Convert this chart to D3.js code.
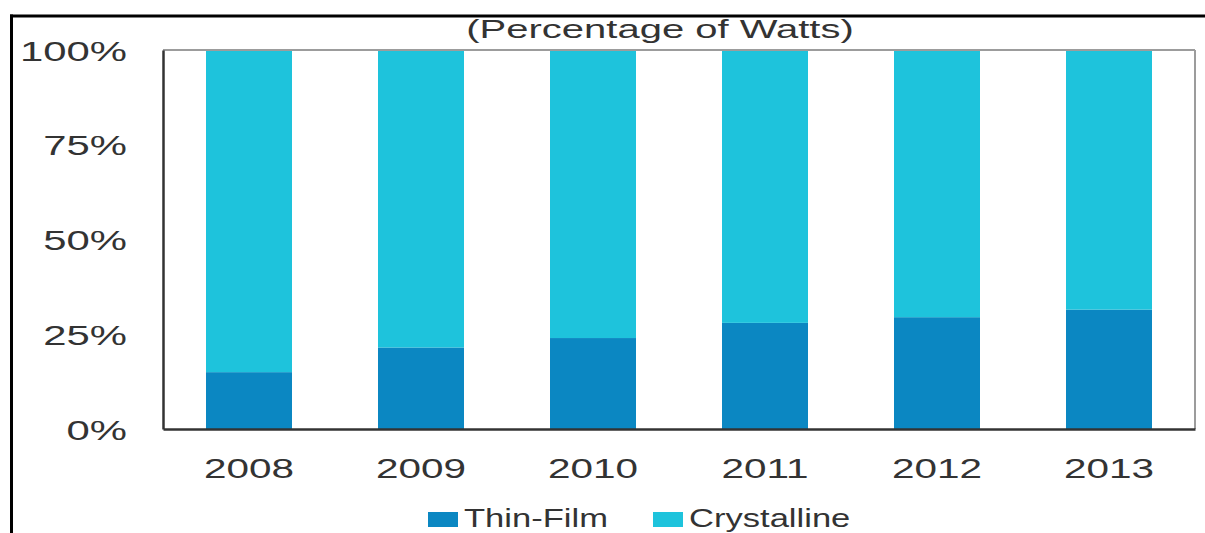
<!DOCTYPE html>
<html>
<head>
<meta charset="utf-8">
<script src="https://cdn.jsdelivr.net/npm/d3@7"></script>
<style>
  html, body { margin: 0; padding: 0; background: #fff; }
  svg { display: block; }
  text { font-family: "Liberation Sans", Arial, sans-serif; fill: #333; }
</style>
</head>
<body>
<svg id="chart" width="1205" height="533"></svg>
<script>
// Module shipments by technology, share of total watts
const years = ["2008", "2009", "2010", "2011", "2012", "2013"];
const thinFilm = [15, 21.5, 24, 28, 29.5, 31.5];
const crystalline = [85, 78.5, 76, 72, 70.5, 68.5];
const seriesNames = ["Thin-Film", "Crystalline"];
const seriesColors = ["#0b87c2", "#1ec3dc"];
const yTicks = [0, 25, 50, 75, 100];
const title = "(Percentage of Watts)";

const W = 1205, H = 533;
const margin = { top: 50, right: 10, bottom: 104, left: 163 };
const plotW = W - margin.left - margin.right;
const plotH = H - margin.top - margin.bottom;

const svg = d3.select("#chart");

// Outer frame (top and left edges)
svg.append("line").attr("x1", 10).attr("x2", W).attr("y1", 16).attr("y2", 16)
  .attr("stroke", "#000").attr("stroke-width", 3);
svg.append("line").attr("x1", 11.5).attr("x2", 11.5).attr("y1", 14.5).attr("y2", H)
  .attr("stroke", "#000").attr("stroke-width", 3);

const g = svg.append("g").attr("transform", `translate(${margin.left},${margin.top})`);

const x = d3.scaleBand().domain(years).range([0, plotW]).paddingInner(0.5).paddingOuter(0.25);
const y = d3.scaleLinear().domain([0, 100]).range([plotH, 0]);

const rows = years.map((yr, i) => ({ year: yr, "Thin-Film": thinFilm[i], "Crystalline": crystalline[i] }));
const stacked = d3.stack().keys(seriesNames)(rows);
const color = d3.scaleOrdinal().domain(seriesNames).range(seriesColors);

// Stacked bars
g.selectAll("g.layer").data(stacked).join("g")
  .attr("class", "layer")
  .attr("fill", d => color(d.key))
  .selectAll("rect").data(d => d).join("rect")
  .attr("x", d => x(d.data.year))
  .attr("width", x.bandwidth())
  .attr("y", d => y(d[1]))
  .attr("height", d => y(d[0]) - y(d[1]));

// Plot frame: light top/right, dark left/bottom
g.append("line").attr("x1", 0).attr("x2", plotW).attr("y1", 0).attr("y2", 0)
  .attr("stroke", "#9c9c9c").attr("stroke-width", 2);
g.append("line").attr("x1", plotW).attr("x2", plotW).attr("y1", 0).attr("y2", plotH)
  .attr("stroke", "#9c9c9c").attr("stroke-width", 2);

const stretchText = (sel, sx, dx, dy) =>
  sel.attr("x", null).attr("y", null).attr("dy", null)
     .attr("transform", `translate(${dx},${dy}) scale(${sx},1)`);

// Y axis
const yAxis = g.append("g")
  .call(d3.axisLeft(y).tickValues(yTicks).tickSize(0).tickFormat(d => d + "%"));
yAxis.select(".domain").attr("stroke", "#333").attr("stroke-width", 2.5);
yAxis.selectAll(".tick text")
  .attr("font-size", 27).attr("fill", "#333").attr("text-anchor", "end")
  .call(stretchText, 1.55, -36, 10);

// X axis
const xAxis = g.append("g").attr("transform", `translate(0,${plotH})`)
  .call(d3.axisBottom(x).tickSize(0));
xAxis.select(".domain").attr("stroke", "#333").attr("stroke-width", 2.5);
xAxis.selectAll(".tick text")
  .attr("font-size", 27).attr("fill", "#333").attr("text-anchor", "middle")
  .call(stretchText, 1.5, 0, 49);

// Title
svg.append("text").text(title)
  .attr("font-size", 25).attr("text-anchor", "middle")
  .attr("transform", "translate(660,38) scale(1.6,1)");

// Legend
const legendX = [428, 653];
const legend = svg.selectAll("g.legend").data(seriesNames).join("g")
  .attr("class", "legend")
  .attr("transform", (d, i) => `translate(${legendX[i]},0)`);
legend.append("rect").attr("x", 0).attr("y", 512).attr("width", 30).attr("height", 15)
  .attr("fill", d => color(d));
legend.append("text").text(d => d)
  .attr("font-size", 26).attr("text-anchor", "start")
  .attr("transform", "translate(36,527) scale(1.33,1)");
</script>
</body>
</html>
